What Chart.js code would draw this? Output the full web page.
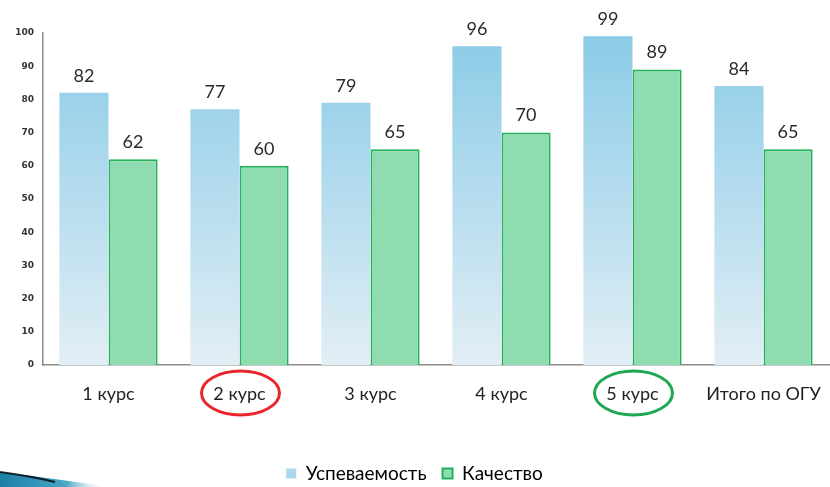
<!DOCTYPE html>
<html>
<head>
<meta charset="utf-8">
<script src="https://cdn.jsdelivr.net/npm/chart.js@4/dist/chart.umd.min.js"></script>
<style>
  html, body { margin: 0; padding: 0; background: #fff; }
  #wrap { width: 830px; height: 487px; position: relative; }
</style>
</head>
<body>
<div id="wrap"><canvas id="chart"></canvas></div>
<script>
// Данные диаграммы
const categories = ['1 курс', '2 курс', '3 курс', '4 курс', '5 курс', 'Итого по ОГУ'];
const uspevaemost = [82, 77, 79, 96, 99, 84];
const kachestvo = [62, 60, 65, 70, 89, 65];
const yTicks = [0, 10, 20, 30, 40, 50, 60, 70, 80, 90, 100];
// подписи, обведённые кружком: индекс категории и цвет
const highlights = [
    { index: 1, color: '#e8262b' },
    { index: 4, color: '#1fa84f' }
];

// подписи значений над столбиками
const valueLabels = {
    id: 'valueLabels',
    afterDatasetsDraw(chart) {
        const ctx = chart.ctx;
        ctx.save();
        ctx.font = '18px Lato';
        ctx.fillStyle = '#2b2b2b';
        ctx.textAlign = 'center';
        ctx.textBaseline = 'middle';
        chart.data.datasets.forEach((ds, i) => {
            chart.getDatasetMeta(i).data.forEach((bar, j) => {
                ctx.fillText(ds.data[j], bar.x, bar.y - 17);
            });
        });
        ctx.restore();
    }
};

// овалы вокруг подписей + уголок слайда
const decorations = {
    id: 'decorations',
    afterDraw(chart) {
        const ctx = chart.ctx;
        const xs = chart.scales.x;
        ctx.save();
        highlights.forEach(h => {
            const cx = xs.getPixelForValue(h.index);
            const cy = xs.top + 28;
            ctx.beginPath();
            ctx.ellipse(cx + 1, cy, 39, 22, 0, 0, Math.PI * 2);
            ctx.strokeStyle = h.color;
            ctx.lineWidth = 3;
            ctx.stroke();
        });

        // уголок внизу слева
        const g = ctx.createLinearGradient(0, 0, 110, 0);
        g.addColorStop(0, '#1b7fa6');
        g.addColorStop(0.6, '#4aa7c6');
        g.addColorStop(1, 'rgba(255,255,255,0)');
        ctx.beginPath();
        ctx.moveTo(0, 472);
        ctx.quadraticCurveTo(50, 478, 110, 487);
        ctx.lineTo(0, 487);
        ctx.closePath();
        ctx.fillStyle = g;
        ctx.fill();
        ctx.beginPath();
        ctx.moveTo(0, 472);
        ctx.quadraticCurveTo(30, 476, 55, 482);
        ctx.strokeStyle = 'rgba(0,0,0,0.8)';
        ctx.lineWidth = 2;
        ctx.stroke();
        ctx.restore();
    }
};

function blueGradient(context) {
    const area = context.chart.chartArea;
    if (!area) return '#a8d8ec';
    const g = context.chart.ctx.createLinearGradient(0, area.top, 0, area.bottom);
    g.addColorStop(0, '#8acbe7');
    g.addColorStop(1, '#e2eef5');
    return g;
}

new Chart(document.getElementById('chart'), {
    type: 'bar',
    data: {
        labels: categories,
        datasets: [
            {
                label: 'Успеваемость',
                data: uspevaemost,
                backgroundColor: blueGradient,
                borderWidth: 0
            },
            {
                label: 'Качество',
                data: kachestvo,
                backgroundColor: '#8fdcb0',
                borderColor: '#22b35a',
                borderWidth: 2
            }
        ]
    },
    options: {
        responsive: true,
        maintainAspectRatio: false,
        animation: false,
        layout: { padding: { top: 33, right: 1, left: 0, bottom: -6 } },
        datasets: {
            bar: { categoryPercentage: 0.75, barPercentage: 1 }
        },
        scales: {
            x: {
                grid: { display: false, drawTicks: false },
                border: { color: '#8c8c8c', width: 1.5 },
                ticks: {
                    font: { family: 'Lato', size: 18 },
                    color: '#222',
                    padding: 18
                },
                afterFit: s => { s.height = 83; s.paddingLeft = 0; s.paddingRight = 0; }
            },
            y: {
                min: 0,
                max: 100,
                afterBuildTicks: s => { s.ticks = yTicks.map(v => ({ value: v })); },
                grid: { display: false, drawTicks: false },
                border: { color: '#8c8c8c', width: 1.5 },
                ticks: {
                    font: { family: 'DejaVu Sans', size: 9, weight: 'bold' },
                    color: '#333',
                    padding: 9
                },
                afterFit: s => { s.width = 43; }
            }
        },
        plugins: {
            legend: {
                position: 'bottom',
                labels: {
                    font: { family: 'Lato', size: 19 },
                    color: '#222',
                    boxWidth: 10,
                    boxHeight: 10,
                    padding: 16,
                    generateLabels(chart) {
                        return [
                            { text: 'Успеваемость', fillStyle: '#aad8ec', strokeStyle: '#aad8ec', lineWidth: 0, datasetIndex: 0 },
                            { text: 'Качество', fillStyle: '#8fdcb0', strokeStyle: '#22b35a', lineWidth: 2, datasetIndex: 1 }
                        ];
                    }
                }
            },
            tooltip: { enabled: false }
        }
    },
    plugins: [valueLabels, decorations]
});
</script>
</body>
</html>
